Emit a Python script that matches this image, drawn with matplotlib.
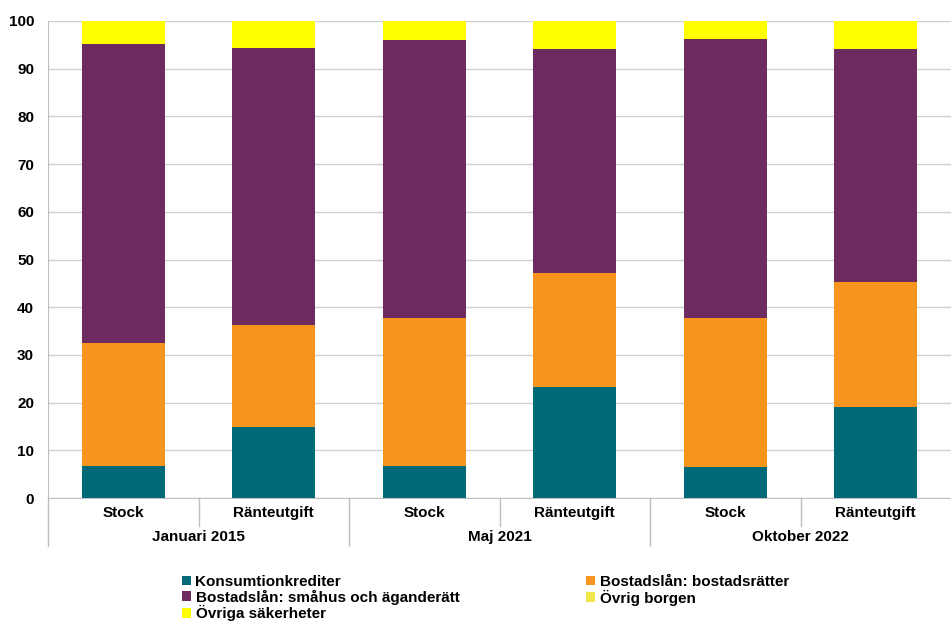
import matplotlib.pyplot as plt
import numpy as np

plt.rcParams["font.family"] = ["Liberation Sans Narrow", "Liberation Sans", "DejaVu Sans"]

groups = ["Januari 2015", "Maj 2021", "Oktober 2022"]
subcats = ["Stock", "Ränteutgift"] * 3

series_names = [
    "Konsumtionkrediter",
    "Bostadslån: bostadsrätter",
    "Bostadslån: småhus och äganderätt",
    "Övrig borgen",
    "Övriga säkerheter",
]
konsum = [6.7, 14.9, 6.7, 23.3, 6.5, 19.1]
bostadsratter = [25.8, 21.4, 31.0, 23.9, 31.2, 26.2]
smahus = [62.7, 58.0, 58.3, 46.9, 58.5, 48.8]
ovrig_borgen = [0.0, 0.0, 0.0, 0.0, 0.0, 0.0]
ovriga_sak = [4.8, 5.7, 4.0, 5.9, 3.8, 5.9]

colors = ["#006978", "#F7941D", "#6D2B5F", "#F2E84B", "#FFFF00"]
series = [konsum, bostadsratter, smahus, ovrig_borgen, ovriga_sak]

fig = plt.figure(figsize=(9.51, 6.21), dpi=100)
ax = fig.add_axes([48 / 951, 1 - 498 / 621, 903 / 951, 477 / 621])

x = np.arange(len(subcats))
bottom = np.zeros(len(subcats))
handles = []
for name, vals, c in zip(series_names, series, colors):
    b = ax.bar(x, vals, bottom=bottom, width=0.55, color=c, label=name, zorder=3)
    handles.append(b)
    bottom += np.array(vals)

ax.set_xlim(-0.5, 5.5)
ax.set_ylim(0, 100)
ax.set_yticks(range(0, 101, 10))
ax.tick_params(axis="y", length=0, pad=10, labelsize=11)
ax.tick_params(axis="x", length=0, labelbottom=False)
for lbl in ax.get_yticklabels():
    lbl.set_fontweight("bold")
ax.grid(axis="y", color="#D0D0D0", linewidth=1, zorder=0)
for s in ["top", "right"]:
    ax.spines[s].set_visible(False)
ax.spines["left"].set_color("#BFBFBF")
ax.spines["bottom"].set_color("#BFBFBF")

# multi-level category axis
trans = ax.get_xaxis_transform()
for i, lab in enumerate(subcats):
    ax.text(i, -0.032, lab, transform=trans, ha="center", va="center",
            fontsize=11, fontweight="bold")
for g, lab in enumerate(groups):
    ax.text(2 * g + 0.5, -0.082, lab, transform=trans, ha="center", va="center",
            fontsize=11, fontweight="bold")
for xs in [0.5, 2.5, 4.5]:
    ax.plot([xs, xs], [0, -0.058], transform=trans, color="#BFBFBF",
            linewidth=1, clip_on=False)
for xs in [-0.5, 1.5, 3.5]:
    ax.plot([xs, xs], [0, -0.1], transform=trans, color="#BFBFBF",
            linewidth=1, clip_on=False)

order = [0, 2, 4, 1, 3]
leg = fig.legend([handles[i] for i in order], [series_names[i] for i in order],
                 ncol=2, loc="upper left", bbox_to_anchor=(168 / 951, 1 - 561 / 621),
                 frameon=False, fontsize=11, handlelength=0.6, handleheight=0.6,
                 handletextpad=0.3, labelspacing=0.05, columnspacing=8.3)
for t in leg.get_texts():
    t.set_fontweight("bold")

fig.savefig("out.png", dpi=100)
